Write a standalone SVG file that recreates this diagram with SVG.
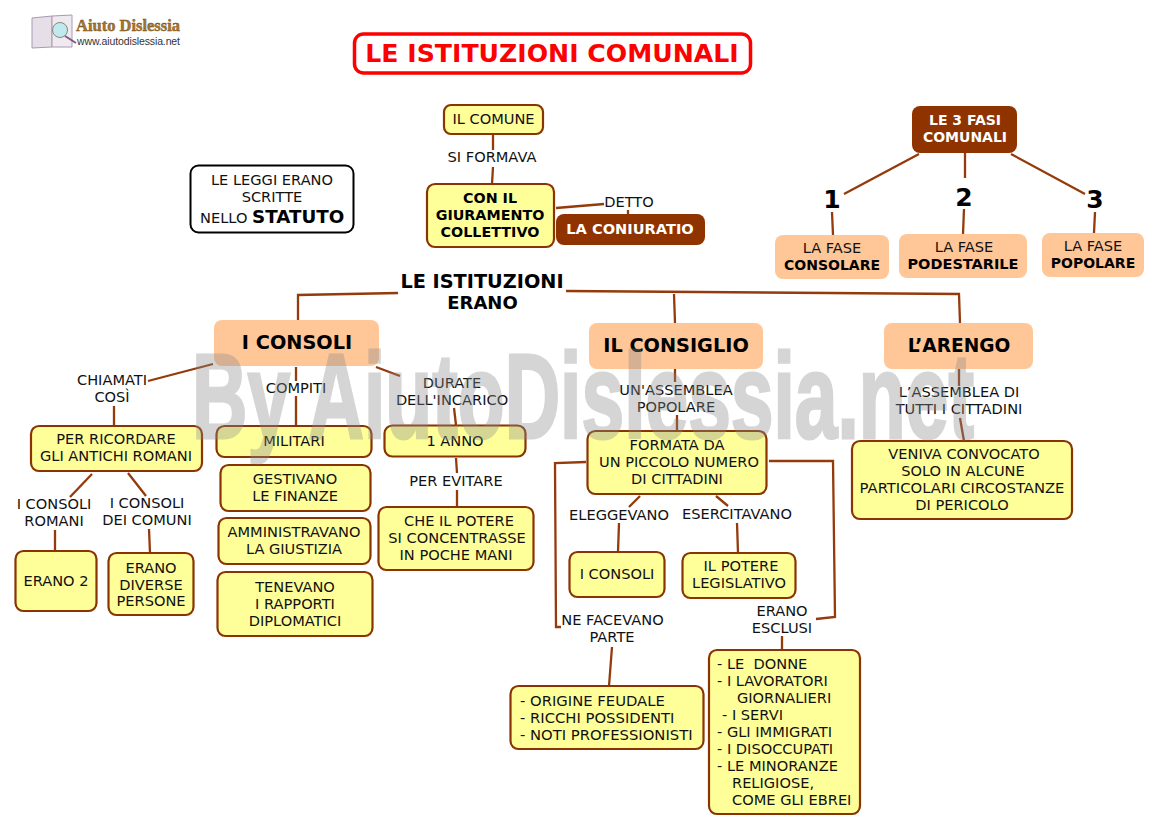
<svg xmlns="http://www.w3.org/2000/svg" width="1158" height="823" viewBox="0 0 1158 823">
<style>
text{font-family:"DejaVu Sans","Liberation Sans",sans-serif;font-size:14.600px;fill:#111;text-anchor:middle;white-space:pre}
.b{font-weight:bold;font-size:14.300px;fill:#000}
.l{text-anchor:start}
.y{fill:#ffff99;stroke:#8a3303;stroke-width:2.200}
.o{fill:#ffc697;stroke:none}
.d{fill:#8f3300;stroke:none}
.w{fill:#fff;font-weight:bold;font-size:14.600px}
.c{fill:none;stroke:#943a0b;stroke-width:2.300}
.h{font-size:19.300px;font-weight:bold;fill:#000}
.n{font-size:25px;font-weight:bold;fill:#000}
</style>
<g id="logo">
<path d="M32 18L52 16V47L32 48Z" fill="#e6dfe8" stroke="#a89ab0"/><path d="M52 16L72 15V47L52 47Z" fill="#efe9f0" stroke="#a89ab0"/>
<circle cx="60" cy="30" r="7.500" fill="#bfeaf0" stroke="#887"/><path d="M65 36L76 43" stroke="#805a80" stroke-width="2"/>
<text x="76" y="31" class="l" textLength="104" lengthAdjust="spacingAndGlyphs" style="font-family:'Liberation Serif',serif;font-size:17px;font-weight:bold;fill:#a9762b;stroke:#6a4a1a;stroke-width:.4">Aiuto Dislessia</text>
<text x="77" y="45" class="l" textLength="103" style="font-family:'Liberation Sans',sans-serif;font-size:10.500px;fill:#333">www.aiutodislessia.net</text>
</g>
<g id="connectors">
<path class="c" d="M493 134V150M493 167L492 184M556 208L604 204M628 210V214"/>
<path class="c" d="M298 320L298 295L398 293M566 291L959 294L960 323M674 294L675 323"/>
<path class="c" d="M919 154L844 194M965 152V178M1011 154L1085 194M832 212L833 235M964 209L963 234M1095 212L1094 233"/>
<path class="c" d="M213 364L148 381M114 406L114 425M296 367V381M296 396V426M376 367L400 376M454 408L456 425M456 458L457 473M457 490V507"/>
<path class="c" d="M92 474L70 497M128 473L146 496M55 530V551M149 529L150 553"/>
<path class="c" d="M675 369V382M677 415V431M640 496L629 507M619 523L618 552M716 496L728 506M737 523L738 553"/>
<path class="c" d="M586 462L555 463L556 627L561 627M769 461L833 461L835 617L816 619M782 636V650M612 647L609 686"/>
<path class="c" d="M959 369V386M960 418L964 441"/>
</g>
<g id="title"><rect x="354.500" y="34" width="396" height="39" rx="9" fill="#fff" stroke="#f00" stroke-width="3.500"/><text x="552" y="62" style="font-size:25.200px;font-weight:bold;fill:#f00">LE ISTITUZIONI COMUNALI</text></g>
<g id="il-comune"><rect class="y" x="444" y="105" width="99" height="29" rx="7"/><text x="493.500" y="124">IL COMUNE</text></g>
<g id="si-formava"><text x="492" y="162">SI FORMAVA</text></g>
<g id="giuramento"><rect class="y" x="427" y="184" width="127" height="63" rx="8"/><text class="b" x="490" y="203">CON IL</text><text class="b" x="490" y="220">GIURAMENTO</text><text class="b" x="490" y="237">COLLETTIVO</text></g>
<g id="detto"><text x="629" y="207">DETTO</text></g>
<g id="coniuratio"><rect class="d" x="556" y="214" width="149" height="31" rx="8"/><text class="w" x="630" y="234">LA CONIURATIO</text></g>
<g id="statuto"><rect x="190.500" y="165.500" width="163" height="67" rx="8" fill="#fff" stroke="#000" stroke-width="2"/><text x="272" y="185">LE LEGGI ERANO</text><text x="272" y="202">SCRITTE</text><text x="200" y="223" class="l">NELLO <tspan style="font-size:18.300px;font-weight:bold;fill:#000">STATUTO</tspan></text></g>
<g id="istituzioni"><text class="h" x="482" y="287.500">LE ISTITUZIONI</text><text class="h" x="482.500" y="309" style="font-size:18px">ERANO</text></g>
<g id="fasi"><rect class="d" x="912" y="106" width="105" height="47" rx="8"/><text class="w" x="965" y="125" style="font-size:14px">LE 3 FASI</text><text class="w" x="965" y="142" style="font-size:14px">COMUNALI</text></g>
<g id="n1"><text class="n" x="832" y="208">1</text></g>
<g id="n2"><text class="n" x="964" y="206">2</text></g>
<g id="n3"><text class="n" x="1095" y="208">3</text></g>
<g id="fase1"><rect class="o" x="775" y="235" width="114" height="44" rx="8"/><text x="832" y="253">LA FASE</text><text class="b" x="832" y="270" style="font-size:14px">CONSOLARE</text></g>
<g id="fase2"><rect class="o" x="899" y="234" width="128" height="44" rx="8"/><text x="964" y="252">LA FASE</text><text class="b" x="963" y="269" style="font-size:14.500px">PODESTARILE</text></g>
<g id="fase3"><rect class="o" x="1042" y="233" width="102" height="44" rx="8"/><text x="1093" y="251">LA FASE</text><text class="b" x="1093" y="268" style="font-size:14px">POPOLARE</text></g>
<g id="consoli"><rect class="o" x="214" y="320" width="165" height="46" rx="8"/><text class="h" x="297" y="349">I CONSOLI</text></g>
<g id="consiglio"><rect class="o" x="589" y="323" width="174" height="46" rx="8"/><text class="h" x="676" y="352">IL CONSIGLIO</text></g>
<g id="arengo"><rect class="o" x="884" y="323" width="149" height="46" rx="8"/><text class="h" x="959" y="352" style="font-size:18.600px">L’ARENGO</text></g>
<g id="chiamati"><text x="112" y="385">CHIAMATI</text><text x="112" y="402">COSÌ</text></g>
<g id="compiti"><text x="296" y="393">COMPITI</text></g>
<g id="durate"><text x="452" y="388">DURATE</text><text x="452" y="405">DELL'INCARICO</text></g>
<g id="ricordare"><rect class="y" x="31" y="426" width="171" height="45" rx="8"/><text x="116" y="444">PER RICORDARE</text><text x="116" y="461">GLI ANTICHI ROMANI</text></g>
<g id="militari"><rect class="y" x="216.500" y="426" width="155" height="31" rx="8"/><text x="294" y="446">MILITARI</text></g>
<g id="anno"><rect class="y" x="384.500" y="425.500" width="141" height="31" rx="8"/><text x="455" y="446">1 ANNO</text></g>
<g id="per-evitare"><text x="456" y="486">PER EVITARE</text></g>
<g id="finanze"><rect class="y" x="220.500" y="465" width="150" height="46" rx="8"/><text x="295" y="484">GESTIVANO</text><text x="295" y="501">LE FINANZE</text></g>
<g id="giustizia"><rect class="y" x="218.500" y="518" width="152" height="46" rx="8"/><text x="294" y="537">AMMINISTRAVANO</text><text x="294" y="554">LA GIUSTIZIA</text></g>
<g id="rapporti"><rect class="y" x="217.500" y="572" width="155" height="64" rx="8"/><text x="295" y="592">TENEVANO</text><text x="295" y="609">I RAPPORTI</text><text x="295" y="626">DIPLOMATICI</text></g>
<g id="potere"><rect class="y" x="378.500" y="507" width="155" height="63" rx="8"/><text x="459" y="526">CHE IL POTERE</text><text x="457" y="543">SI CONCENTRASSE</text><text x="456" y="560">IN POCHE MANI</text></g>
<g id="romani-label"><text x="54" y="509">I CONSOLI</text><text x="54" y="526">ROMANI</text></g>
<g id="comuni-label"><text x="147" y="508">I CONSOLI</text><text x="147" y="525">DEI COMUNI</text></g>
<g id="erano2"><rect class="y" x="15.500" y="551" width="81" height="60" rx="8"/><text x="56" y="586">ERANO 2</text></g>
<g id="diverse"><rect class="y" x="108.500" y="553" width="85" height="62" rx="8"/><text x="151" y="573">ERANO</text><text x="151" y="590">DIVERSE</text><text x="151" y="606">PERSONE</text></g>
<g id="assemblea"><text x="676" y="395">UN'ASSEMBLEA</text><text x="676" y="412">POPOLARE</text></g>
<g id="formata"><rect class="y" x="587.500" y="431" width="179" height="63" rx="8"/><text x="677" y="450">FORMATA DA</text><text x="679" y="467">UN PICCOLO NUMERO</text><text x="677" y="484">DI CITTADINI</text></g>
<g id="eleggevano"><text x="619" y="520">ELEGGEVANO</text></g>
<g id="esercitavano"><text x="737" y="519">ESERCITAVANO</text></g>
<g id="i-consoli-2"><rect class="y" x="569.500" y="552" width="95" height="45" rx="8"/><text x="617" y="579">I CONSOLI</text></g>
<g id="legislativo"><rect class="y" x="682.500" y="553" width="113" height="45" rx="8"/><text x="741" y="571">IL POTERE</text><text x="739" y="588">LEGISLATIVO</text></g>
<g id="ne-facevano"><text x="612.500" y="625">NE FACEVANO</text><text x="612" y="642">PARTE</text></g>
<g id="esclusi"><text x="782" y="616">ERANO</text><text x="782" y="633">ESCLUSI</text></g>
<g id="origine"><rect class="y" x="510.500" y="686" width="193" height="63" rx="8"/><text class="l" x="520" y="706" style="font-size:14.800px">- ORIGINE FEUDALE</text><text class="l" x="520" y="723" style="font-size:14.800px">- RICCHI POSSIDENTI</text><text class="l" x="520" y="740" style="font-size:14.800px">- NOTI PROFESSIONISTI</text></g>
<g id="escluse"><rect class="y" x="709" y="650" width="151" height="164" rx="8"/><text class="l" x="717" y="669">- LE  DONNE</text><text class="l" x="717" y="686">- I LAVORATORI</text><text class="l" x="737" y="703">GIORNALIERI</text><text class="l" x="722" y="720">- I SERVI</text><text class="l" x="717" y="737">- GLI IMMIGRATI</text><text class="l" x="717" y="754">- I DISOCCUPATI</text><text class="l" x="717" y="771">- LE MINORANZE</text><text class="l" x="732" y="788">RELIGIOSE,</text><text class="l" x="732" y="805">COME GLI EBREI</text></g>
<g id="tutti"><text x="959" y="397">L’ASSEMBLEA DI</text><text x="959" y="414">TUTTI I CITTADINI</text></g>
<g id="veniva"><rect class="y" x="852" y="441" width="220" height="78" rx="8"/><text x="964" y="459">VENIVA CONVOCATO</text><text x="963" y="476">SOLO IN ALCUNE</text><text x="962" y="493" style="font-size:14.800px">PARTICOLARI CIRCOSTANZE</text><text x="962" y="510">DI PERICOLO</text></g>
<text x="192" y="438" textLength="782" lengthAdjust="spacingAndGlyphs" opacity=".36" style="font-family:'Liberation Sans',sans-serif;font-size:120px;font-weight:bold;fill:#8c8c8c;stroke:#8c8c8c;stroke-width:3;text-anchor:start">By AiutoDislessia.net</text>
</svg>
